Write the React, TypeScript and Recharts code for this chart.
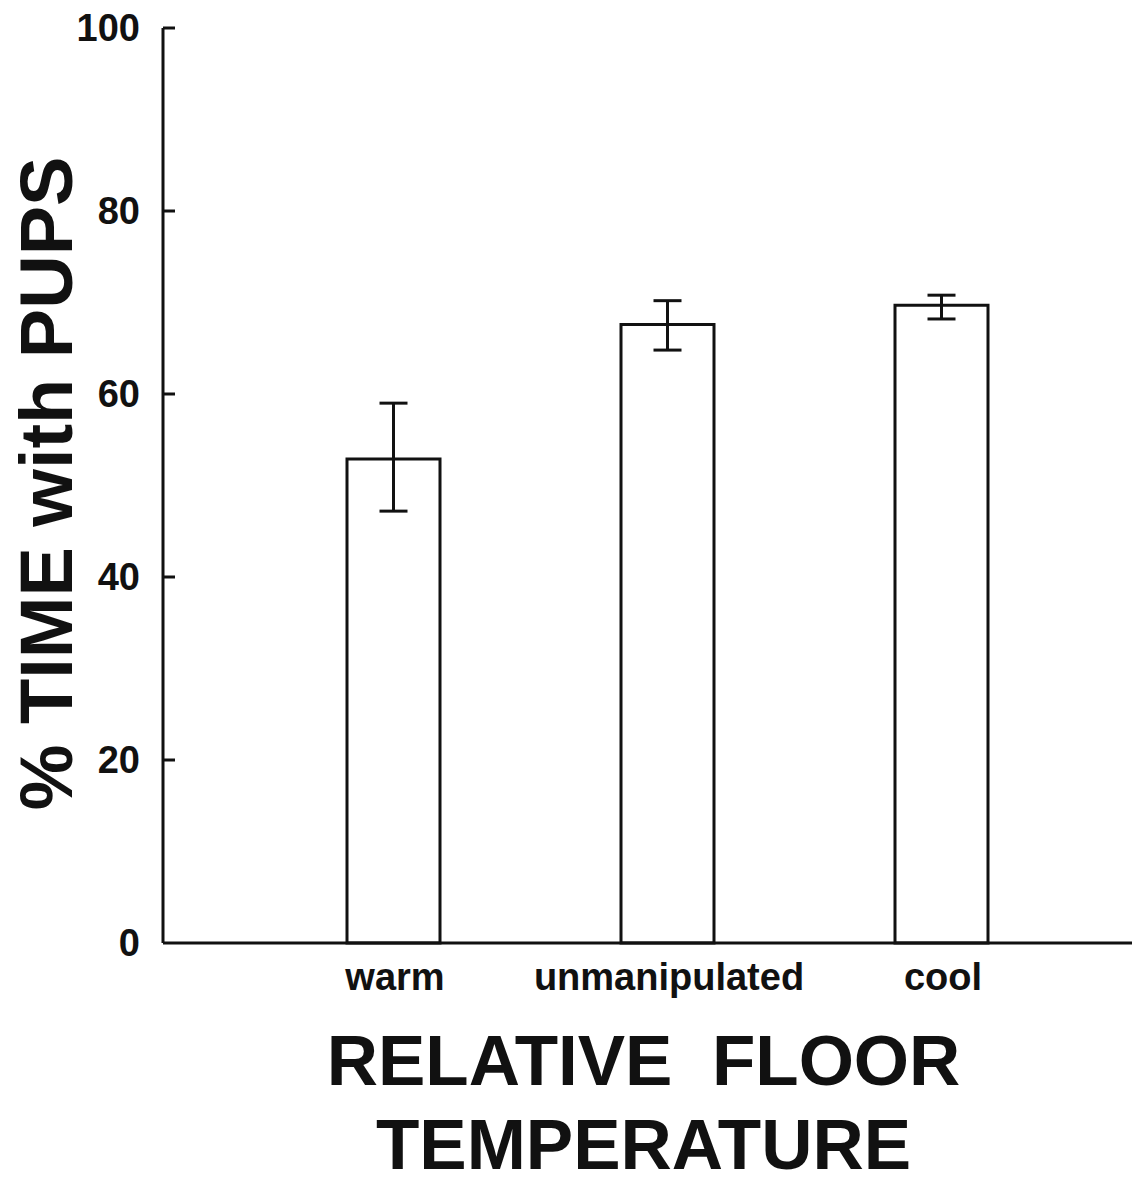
import React from "react";
import { BarChart, Bar, XAxis, YAxis, ErrorBar, Label } from "recharts";

const categories = ["warm", "unmanipulated", "cool"];
const meanValues = [52.9, 67.6, 69.7];
const errorLow = [5.7, 2.8, 1.5];
const errorHigh = [6.1, 2.6, 1.1];
const yTicks = [0, 20, 40, 60, 80, 100];

const data = categories.map((c, i) => ({
  name: c,
  value: meanValues[i],
  err: [errorLow[i], errorHigh[i]],
}));

const FONT = "'Liberation Sans', Arial, Helvetica, sans-serif";

const YTick = (props: any) => {
  const { x, y, payload } = props;
  return (
    <g>
      {payload.value !== 0 && (
        <line x1={x} x2={x + 12} y1={y} y2={y} stroke="#111" strokeWidth={3} />
      )}
      <text
        x={x - 23}
        y={y}
        textAnchor="end"
        dominantBaseline="central"
        fontFamily={FONT}
        fontWeight="bold"
        fontSize={38}
        fill="#111"
      >
        {payload.value}
      </text>
    </g>
  );
};

const XTick = (props: any) => {
  const { x, y, payload } = props;
  return (
    <text
      x={x + 2}
      y={y + 47}
      textAnchor="middle"
      fontFamily={FONT}
      fontWeight="bold"
      fontSize={38}
      fill="#111"
    >
      {payload.value}
    </text>
  );
};

const XTitle = (props: any) => {
  const vb = props.viewBox || {};
  const cx = vb.x + vb.width / 2 - 8;
  return (
    <text
      textAnchor="middle"
      fontFamily={FONT}
      fontWeight="bold"
      fontSize={71}
      fill="#111"
    >
      <tspan x={cx} y={vb.y + 142} style={{ whiteSpace: "pre" }}>
        {"RELATIVE  FLOOR"}
      </tspan>
      <tspan x={cx} y={vb.y + 226}>
        TEMPERATURE
      </tspan>
    </text>
  );
};

const YTitle = (props: any) => {
  const vb = props.viewBox || {};
  const cx = 38;
  const cy = vb.y + vb.height / 2 - 2;
  return (
    <g transform={`translate(${cx}, ${cy}) rotate(-90)`}>
      <text
        x={0}
        y={0}
        textAnchor="middle"
        dominantBaseline="central"
        fontFamily={FONT}
        fontWeight="bold"
        fontSize={74}
        fill="#111"
      >
        % TIME with PUPS
      </text>
    </g>
  );
};

export default function App() {
  return (
    <div style={{ width: 1132, height: 1175, background: "#fff" }}>
      <BarChart
        width={1132}
        height={1175}
        data={data}
        margin={{ top: 20, right: 0, bottom: 0, left: 0 }}
      >
        <XAxis
          dataKey="name"
          padding={{ left: 93, right: 62 }}
          axisLine={{ stroke: "#111", strokeWidth: 3 }}
          tickLine={false}
          tickSize={0}
          tickMargin={0}
          tick={<XTick />}
          height={240}
          interval={0}
        >
          <Label content={<XTitle />} />
        </XAxis>
        <YAxis
          width={155}
          domain={[0, 100]}
          ticks={yTicks}
          interval={0}
          axisLine={{ stroke: "#111", strokeWidth: 3 }}
          tickLine={false}
          tickSize={0}
          tickMargin={0}
          tick={<YTick />}
        >
          <Label content={<YTitle />} />
        </YAxis>
        <Bar
          dataKey="value"
          fill="#fff"
          stroke="#111"
          strokeWidth={3}
          barSize={93}
          isAnimationActive={false}
        >
          <ErrorBar
            dataKey="err"
            width={14}
            stroke="#111"
            strokeWidth={3}
            direction="y"
          />
        </Bar>
      </BarChart>
    </div>
  );
}
